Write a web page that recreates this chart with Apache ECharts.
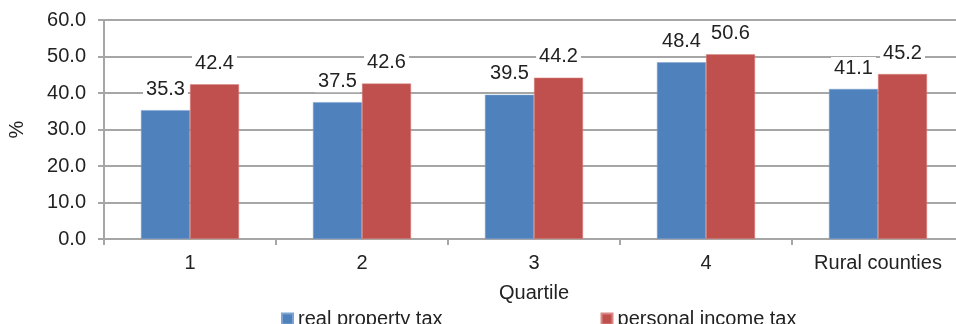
<!DOCTYPE html>
<html>
<head>
<meta charset="utf-8">
<script src="https://cdn.jsdelivr.net/npm/echarts@6/dist/echarts.min.js"></script>
<style>
  html, body { margin: 0; padding: 0; background: #fff; }
  #chart { width: 956px; height: 324px; }
</style>
</head>
<body>
<div id="chart"></div>
<script>
  // data
  var categories = ['1', '2', '3', '4', 'Rural counties']
  var realPropertyTax = [35.3, 37.5, 39.5, 48.4, 41.1]
  var personalIncomeTax = [42.4, 42.6, 44.2, 50.6, 45.2]
  var seriesNames = ['real property tax', 'personal income tax']

  var font = 'Liberation Sans, Arial, sans-serif'
  var axisGray = '#a6a6a6'
  var textColor = '#222'
  var fs = 20

  var labelStyle = {
    show: true,
    position: 'top',
    distance: 10,
    color: textColor,
    fontFamily: font,
    fontSize: fs,
    backgroundColor: '#fff',
    padding: [1, 3],
    formatter: function (p) { return p.value.toFixed(1) }
  }

  var chart = echarts.init(document.getElementById('chart'))
  chart.setOption({
    animation: false,
    textStyle: { fontFamily: font },
    grid: {
      left: 104,
      top: 20,
      width: 860,
      bottom: 85,
      containLabel: false,
      outerBoundsMode: 'none'
    },
    legend: {
      data: seriesNames,
      top: 304,
      left: 276,
      itemWidth: 11,
      itemHeight: 11,
      itemGap: 158,
      icon: 'rect',
      textStyle: { fontSize: fs, color: textColor }
    },
    xAxis: {
      type: 'category',
      data: categories,
      name: 'Quartile',
      nameLocation: 'middle',
      nameGap: 44,
      nameTextStyle: { fontSize: fs, color: textColor },
      axisLine: { lineStyle: { color: axisGray, width: 2 } },
      axisTick: { show: true, length: 6, lineStyle: { color: axisGray, width: 2 } },
      axisLabel: { fontSize: fs, color: textColor, margin: 14 }
    },
    yAxis: {
      type: 'value',
      min: 0,
      max: 60,
      interval: 10,
      name: '%',
      nameLocation: 'middle',
      nameRotate: 90,
      nameGap: 77,
      nameTextStyle: { fontSize: fs, color: textColor },
      axisLine: { show: true, lineStyle: { color: axisGray, width: 2 } },
      axisTick: { show: true, length: 6, lineStyle: { color: axisGray, width: 2 } },
      axisLabel: {
        fontSize: fs,
        color: textColor,
        margin: 18,
        formatter: function (v) { return v.toFixed(1) }
      },
      splitLine: { lineStyle: { color: axisGray, width: 2 } }
    },
    series: [{
      name: seriesNames[0],
      type: 'bar',
      data: realPropertyTax,
      barGap: '0%',
      barCategoryGap: '43%',
      itemStyle: { color: '#4f81bd', borderColor: '#7fa3d0', borderWidth: 0.5 },
      label: labelStyle
    }, {
      name: seriesNames[1],
      type: 'bar',
      data: personalIncomeTax,
      barGap: '0%',
      barCategoryGap: '43%',
      itemStyle: { color: '#c0504d', borderColor: '#d98885', borderWidth: 0.5 },
      label: labelStyle
    }]
  })
</script>
</body>
</html>
